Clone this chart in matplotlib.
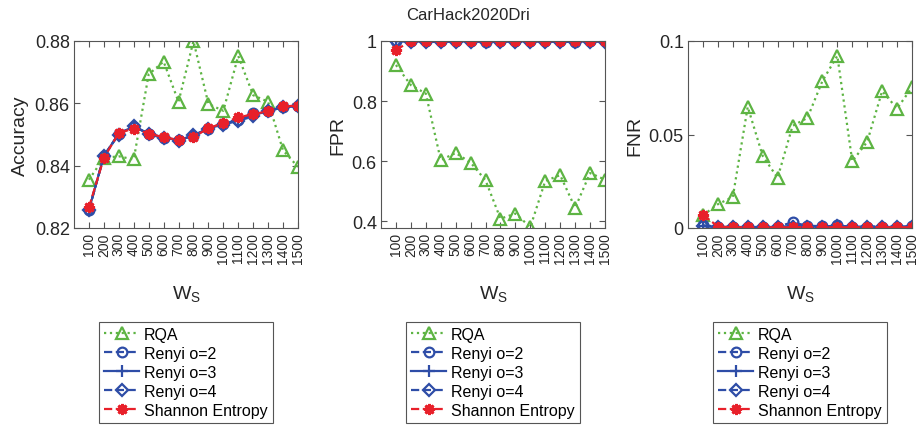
import numpy as np
import matplotlib
matplotlib.use('Agg')
import matplotlib.pyplot as plt

plt.rcParams['font.family'] = ['Liberation Sans', 'DejaVu Sans']

ws = [100, 200, 300, 400, 500, 600, 700, 800, 900, 1000, 1100, 1200, 1300, 1400, 1500]
ws_labels = [str(w) for w in ws]

# Accuracy
acc_rqa = [0.8355, 0.8425, 0.8430, 0.8420, 0.8693, 0.8734, 0.8605, 0.8800, 0.8598, 0.8576,
           0.8752, 0.8626, 0.8605, 0.8449, 0.8396]
acc_r2 = [0.8258, 0.8431, 0.8503, 0.8525, 0.8503, 0.8490, 0.8482, 0.8496, 0.8519, 0.8535,
          0.8546, 0.8568, 0.8575, 0.8589, 0.8592]
acc_r3 = [0.8258, 0.8431, 0.8503, 0.8526, 0.8503, 0.8490, 0.8482, 0.8496, 0.8519, 0.8533,
          0.8546, 0.8562, 0.8575, 0.8589, 0.8592]
acc_r4 = [0.8258, 0.8431, 0.8500, 0.8528, 0.8501, 0.8488, 0.8480, 0.8498, 0.8519, 0.8532,
          0.8544, 0.8558, 0.8575, 0.8587, 0.8592]
acc_sh = [0.8266, 0.8425, 0.8505, 0.8519, 0.8503, 0.8491, 0.8483, 0.8492, 0.8520, 0.8537,
          0.8555, 0.8565, 0.8575, 0.8590, 0.8593]

# FPR
fpr_rqa = [0.920, 0.853, 0.825, 0.603, 0.627, 0.595, 0.536, 0.408, 0.425, 0.380,
           0.534, 0.553, 0.444, 0.560, 0.538]
fpr_r2 = [1.000, 1.000, 1.000, 1.000, 1.000, 1.000, 0.996, 1.000, 1.000, 1.000,
          1.000, 1.000, 0.998, 1.000, 1.000]
fpr_r3 = [1.000, 0.999, 0.998, 0.998, 0.999, 0.999, 0.997, 0.999, 0.999, 0.999,
          0.999, 0.998, 0.998, 0.999, 0.999]
fpr_r4 = [1.000, 0.998, 0.997, 0.997, 0.998, 0.998, 0.996, 0.998, 0.998, 0.998,
          0.998, 0.997, 0.997, 0.998, 0.998]
fpr_sh = [0.970, 1.000, 1.000, 1.000, 1.000, 1.000, 1.000, 1.000, 1.000, 1.000,
          1.000, 1.000, 1.000, 1.000, 1.000]

# FNR
fnr_rqa = [0.0068, 0.0127, 0.0166, 0.0648, 0.0386, 0.0268, 0.0546, 0.0589, 0.0786, 0.0921,
           0.0357, 0.0461, 0.0732, 0.0639, 0.0752]
fnr_r2 = [0.0014, 0.0008, 0.0006, 0.0005, 0.0006, 0.0008, 0.0030, 0.0012, 0.0010, 0.0014,
          0.0006, 0.0008, 0.0008, 0.0006, 0.0010]
fnr_r3 = [0.0012, 0.0006, 0.0005, 0.0004, 0.0005, 0.0006, 0.0010, 0.0010, 0.0008, 0.0012,
          0.0005, 0.0006, 0.0006, 0.0005, 0.0008]
fnr_r4 = [0.0010, 0.0005, 0.0004, 0.0003, 0.0004, 0.0005, 0.0008, 0.0008, 0.0007, 0.0010,
          0.0004, 0.0005, 0.0005, 0.0004, 0.0006]
fnr_sh = [0.0071, 0.0008, 0.0004, 0.0004, 0.0004, 0.0003, 0.0004, 0.0005, 0.0004, 0.0004,
          0.0003, 0.0004, 0.0004, 0.0003, 0.0004]

green = '#5DB443'
blue = '#2E4DA7'
red = '#E8202A'
grey = '#262626'

fig = plt.figure(figsize=(9.21, 4.31), dpi=100)
lefts = [74, 381, 688]
panels = [
    ('Accuracy', (acc_rqa, acc_r2, acc_r3, acc_r4, acc_sh), (0.82, 0.88), [0.82, 0.84, 0.86, 0.88], ['0.82', '0.84', '0.86', '0.88']),
    ('FPR', (fpr_rqa, fpr_r2, fpr_r3, fpr_r4, fpr_sh), (0.377, 1.0), [0.4, 0.6, 0.8, 1.0], ['0.4', '0.6', '0.8', '1']),
    ('FNR', (fnr_rqa, fnr_r2, fnr_r3, fnr_r4, fnr_sh), (0.0, 0.1), [0, 0.05, 0.1], ['0', '0.05', '0.1']),
]

for left, (ylab, series, ylim, yt, ytl) in zip(lefts, panels):
    ax = fig.add_axes([left / 921, (431 - 229) / 431, 224 / 921, 187 / 431])
    rqa, r2, r3, r4, sh = series
    ax.plot(ws, rqa, ':', color=green, lw=1.6, marker='^', ms=8, mfc='none', mew=1.6, label='RQA')
    ax.plot(ws, r2, '--', color=blue, lw=1.6, marker='o', ms=7, mfc='none', mew=1.6, label='Renyi o=2')
    ax.plot(ws, r3, '-', color=blue, lw=1.6, marker='+', ms=8, mew=1.6, label='Renyi o=3')
    ax.plot(ws, r4, '--', color=blue, lw=1.6, marker='D', ms=6.5, mfc='none', mew=1.6, label='Renyi o=4')
    ax.plot(ws, sh, '--', color=red, lw=1.6, marker=(8, 2, 0), ms=8, mew=2, label='Shannon Entropy')
    ax.set_xlim(0, 1500)
    ax.set_ylim(*ylim)
    ax.set_xticks(ws)
    ax.set_xticklabels(ws_labels, rotation=90, fontsize=10, color=grey)
    ax.set_yticks(yt)
    ax.set_yticklabels(ytl, fontsize=13, color=grey)
    ax.tick_params(direction='in', top=True, right=True, length=4, width=0.8, color='#555555', pad=3)
    for s in ax.spines.values():
        s.set_color('#555555')
        s.set_linewidth(0.8)
    ax.set_ylabel(ylab, fontsize=14, color=grey)
    ax.set_xlabel('W$_{\\mathregular{S}}$', fontsize=14, color=grey, labelpad=15)
    leg = ax.legend(loc='upper center', bbox_to_anchor=(0.5, -0.46), fontsize=11.5, handlelength=2.2,
                    handletextpad=0.3, labelspacing=0.25, borderpad=0.3, fancybox=False, framealpha=1,
                    edgecolor='#555555')
    leg.get_frame().set_linewidth(0.8)

fig.text(468 / 921, 1 - 15 / 431, 'CarHack2020Dri', ha='center', va='center', fontsize=12, color=grey)

fig.savefig('out.png', dpi=100)
